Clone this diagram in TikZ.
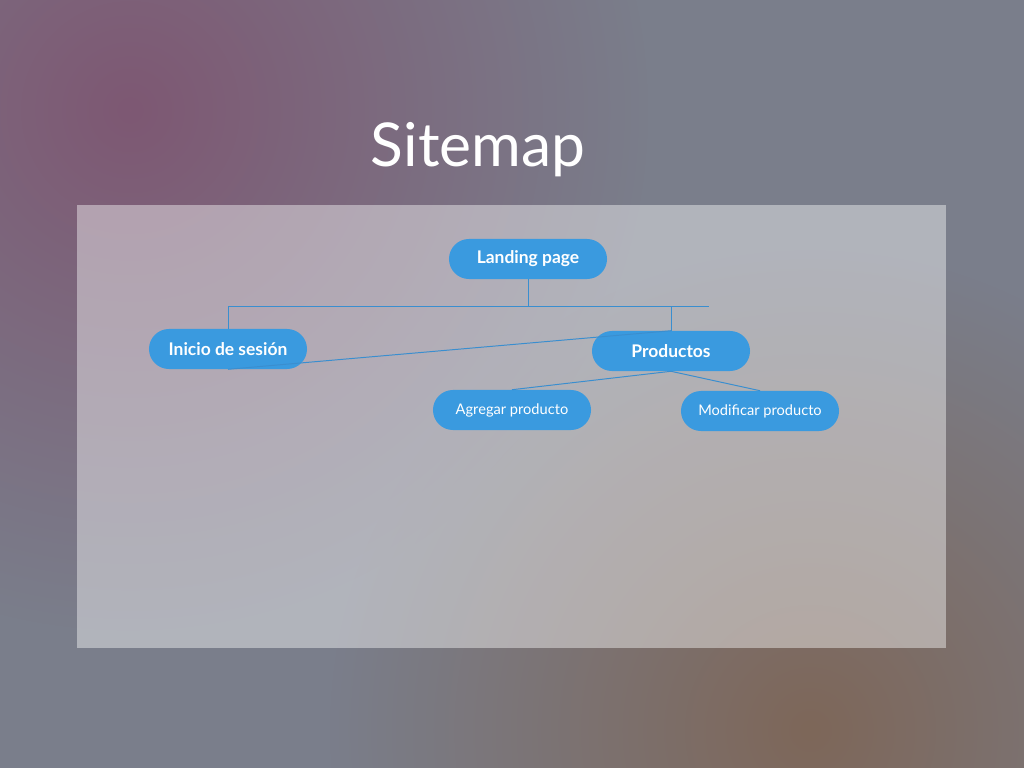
\documentclass[tikz,border=0pt]{standalone}
\usepackage{fontspec}
\setmainfont{Lato}
\usetikzlibrary{fadings}
\definecolor{bgmid}{HTML}{7A7E8B}
\definecolor{bgplum}{HTML}{7E5873}
\definecolor{bgbrown}{HTML}{7E6759}
\definecolor{pillblue}{HTML}{3A9ADF}
\definecolor{linkblue}{HTML}{3A8ECF}
\tikzfading[name=blobfade, inner color=transparent!0, outer color=transparent!100]
\tikzset{
  page/.style={fill=pillblue, text=white, rounded corners=0.5cm, minimum width=3.95cm, minimum height=1cm, inner sep=0pt},
  toppage/.style={page, font=\bfseries\fontsize{12.4}{14}\selectfont},
  subpage/.style={page, font=\fontsize{10.4}{12}\selectfont},
  link/.style={draw=linkblue, line width=0.7pt}
}
\begin{document}
\begin{tikzpicture}[x=0.025cm, y=-0.025cm]
			%%%%% START %%%%%
			
			% background
			\fill[bgmid] (0, 0) rectangle (1024, 768);
			\useasboundingbox (0, 0) rectangle (1024, 768);
			\fill[bgplum, path fading=blobfade] (130, 110) circle (520);
			\fill[bgbrown, path fading=blobfade] (810, 730) circle (480);
			
			% panel
			\fill[white, opacity=0.42] (77, 205) rectangle (946, 648);
			
			\node[text=white, font=\fontsize{43}{48}\selectfont] (title) at (478, 150) {Sitemap};
			
			% pages
			\node[toppage] (landing) at (528, 259) {Landing page};
			\node[toppage] (inicio) at (228, 349) {Inicio de sesión};
			\node[toppage] (productos) at (671, 351) {Productos};
			\node[subpage] (agregar) at (512, 410) {Agregar producto};
			\node[subpage] (modificar) at (760, 411) {Modificar producto};
			
			\coordinate (busL) at (228, 306);
			\coordinate (busM) at (528, 306);
			\coordinate (busP) at (671, 306);
			\coordinate (busR) at (709, 306);
			
			% links
			\draw[link] (landing.south) -- (busM);
			\draw[link] (busL) -- (busR);
			\draw[link] (busL) -- (inicio.north);
			\draw[link] (busP) -- (productos.north);
			\draw[link] (inicio.south) -- (productos.north);
			\draw[link] (productos.south) -- (agregar.north);
			\draw[link] (productos.south) -- (modificar.north);
			
			%%%%% END %%%%%
\end{tikzpicture}
\end{document}
